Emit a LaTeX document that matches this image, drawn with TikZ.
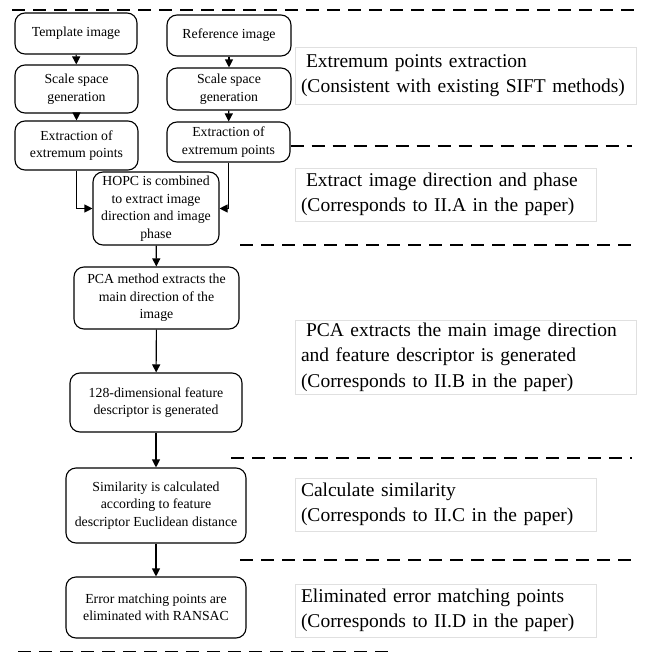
\documentclass[tikz,border=0pt]{standalone}
\usepackage{fontspec}
\setmainfont{Liberation Serif}
\usetikzlibrary{arrows.meta}
\newcommand{\boxfont}{\fontsize{13.8pt}{17.5pt}\selectfont}
\newcommand{\notefont}{\fontsize{19.5pt}{25.5pt}\selectfont}
\begin{document}
\begin{tikzpicture}[x=1pt,y=-1pt,
  stepbox/.style={draw, rounded corners=10pt, align=center, font=\boxfont, inner sep=1pt, line width=1.1pt},
  notebox/.style={draw=black!12, line width=0.6pt, align=left, font=\notefont, inner xsep=6pt, inner ysep=0pt, anchor=center},
  flow/.style={line width=1.1pt, -{Triangle[length=8pt,width=8pt]}},
  sep/.style={line width=1.2pt, dash pattern=on 13pt off 8pt}]
\useasboundingbox (0,0) rectangle (645,653);
% left column
\node[stepbox, minimum width=122pt, minimum height=41pt] (tmpl) at (76,33.5) {Template image};
\node[stepbox, minimum width=123pt, minimum height=48pt] (scl) at (76.5,89) {Scale space\\generation};
\node[stepbox, minimum width=123pt, minimum height=49pt] (exl) at (76.5,145.5) {Extraction of\\extremum points};
% right column
\node[stepbox, minimum width=124pt, minimum height=41pt] (refi) at (229,35.5) {Reference image};
\node[stepbox, minimum width=124pt, minimum height=42pt] (scr) at (229,89) {Scale space\\generation};
\node[stepbox, minimum width=123pt, minimum height=40pt] (exr) at (228.5,142) {Extraction of\\extremum points};
% main chain
\node[stepbox, minimum width=126pt, minimum height=73pt] (hopc) at (156,208.5) {HOPC is combined\\to extract image\\direction and image\\phase};
\node[stepbox, minimum width=165pt, minimum height=62pt] (pca) at (156.5,298) {PCA method extracts the\\main direction of the\\image};
\node[stepbox, minimum width=172pt, minimum height=59pt] (desc) at (156,402.5) {128-dimensional feature\\descriptor is generated};
\node[stepbox, minimum width=180pt, minimum height=75pt] (sim) at (156,505.5) {Similarity is calculated\\according to feature\\descriptor Euclidean distance};
\node[stepbox, minimum width=180pt, minimum height=61pt] (err) at (156,607.5) {Error matching points are\\eliminated with RANSAC};
% arrows
\draw[flow] (tmpl) -- (scl);
\draw[flow] (scl) -- (exl);
\draw[flow] (refi) -- (scr);
\draw[flow] (scr) -- (exr);
\draw[flow] (exl.south) |- (hopc.west);
\draw[flow] (exr.south) |- (hopc.east);
\draw[flow] (hopc) -- (pca);
\draw[flow] (pca) -- (desc);
\draw[flow] (desc) -- (sim);
\draw[flow] (sim) -- (err);
% separators
\coordinate (s1a) at (12,10); \coordinate (s1b) at (640,10);
\coordinate (s2a) at (exr.east |- 0,146); \coordinate (s2b) at (632,146);
\coordinate (s3a) at (240,245); \coordinate (s3b) at (632,245);
\coordinate (s4a) at (231,458); \coordinate (s4b) at (632,458);
\coordinate (s5a) at (240,560); \coordinate (s5b) at (632,560);
\coordinate (s6a) at (18,651.5); \coordinate (s6b) at (392,651.5);
\draw[sep] (s1a) -- (s1b);
\draw[sep] (s2a) -- (s2b);
\draw[sep] (s3a) -- (s3b);
\draw[sep] (s4a) -- (s4b);
\draw[sep] (s5a) -- (s5b);
\draw[sep] (s6a) -- (s6b);
% notes
\node[notebox, text width=329pt, minimum height=57pt] (n1) at (465.5,75.5) {\hspace*{5pt}Extremum points extraction\\(Consistent with existing SIFT methods)};
\node[notebox, text width=289pt, minimum height=53pt] (n2) at (445.5,194.5) {\hspace*{5pt}Extract image direction and phase\\(Corresponds to II.A in the paper)};
\node[notebox, text width=329pt, minimum height=74pt] (n3) at (465.5,357) {\hspace*{5pt}PCA extracts the main image direction\\and feature descriptor is generated\\(Corresponds to II.B in the paper)};
\node[notebox, text width=289pt, minimum height=53pt] (n4) at (445.5,504.5) {Calculate similarity\\(Corresponds to II.C in the paper)};
\node[notebox, text width=289pt, minimum height=53pt] (n5) at (445.5,610.5) {Eliminated error matching points\\(Corresponds to II.D in the paper)};
\end{tikzpicture}
\end{document}
